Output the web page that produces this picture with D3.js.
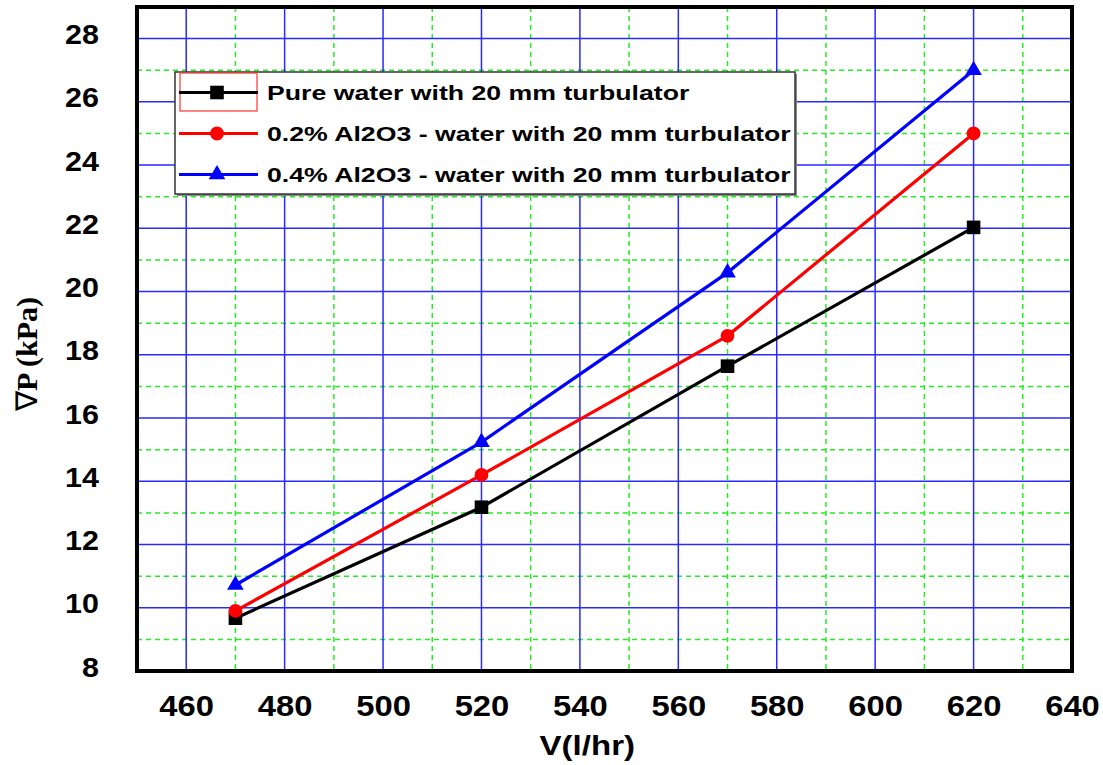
<!DOCTYPE html>
<html>
<head>
<meta charset="utf-8">
<script src="https://cdn.jsdelivr.net/npm/d3@7"></script>
<style>
body { margin: 0; background: #fff; }
text { font-family: Arial, "Liberation Sans", sans-serif; font-weight: bold; fill: #000; }
</style>
</head>
<body>
<div id="chart"></div>
<script>
var flowRates = [470, 520, 570, 620];
var pureWater = [9.67, 13.18, 17.64, 22.03];
var alumina02 = [9.9, 14.2, 18.6, 25.0];
var alumina04 = [10.72, 15.24, 20.6, 27.0];
var seriesNames = [
	"Pure water with 20 mm turbulator",
	"0.2% Al2O3 - water with 20 mm turbulator",
	"0.4% Al2O3 - water with 20 mm turbulator"
];
var xTicks = [460, 480, 500, 520, 540, 560, 580, 600, 620, 640];
var yTicks = [8, 10, 12, 14, 16, 18, 20, 22, 24, 26, 28];

var totalWidth = 1103, totalHeight = 765;
var margin = { top: 7, left: 137, bottom: 94, right: 31 };
var width = totalWidth - margin.left - margin.right;
var height = totalHeight - margin.top - margin.bottom;

// the original text is drawn a little wider than plain Arial
var tickStretch = 1.13;
var legendStretch = 1.27;

var series = [
	{ name: seriesNames[0], values: pureWater, color: "#000000", symbol: d3.symbolSquare, size: 185 },
	{ name: seriesNames[1], values: alumina02, color: "#ff0000", symbol: d3.symbolCircle, size: 150 },
	{ name: seriesNames[2], values: alumina04, color: "#0000ff", symbol: d3.symbolTriangle, size: 120 }
];

var xScale = d3.scaleLinear().domain([450, 640]).range([0, width]);
var yScale = d3.scaleLinear().domain([8, 29]).range([height, 0]);

var svg = d3.select("#chart").append("svg")
	.attr("width", totalWidth)
	.attr("height", totalHeight);

var mainGroup = svg.append("g")
	.attr("transform", "translate(" + margin.left + "," + margin.top + ")");

// minor grid (green dashed)
var gridGroup = mainGroup.append("g");
xTicks.forEach(function (t) {
	var m = t + 10;
	if (m < 640) {
		gridGroup.append("line")
			.attr("x1", xScale(m)).attr("x2", xScale(m))
			.attr("y1", 0).attr("y2", height)
			.attr("stroke", "#22ee22").attr("stroke-width", 1.5)
			.attr("stroke-dasharray", "5,4");
	}
});
yTicks.forEach(function (t) {
	var m = t + 1;
	if (m < 29) {
		gridGroup.append("line")
			.attr("x1", 0).attr("x2", width)
			.attr("y1", yScale(m)).attr("y2", yScale(m))
			.attr("stroke", "#22ee22").attr("stroke-width", 1.5)
			.attr("stroke-dasharray", "5,4");
	}
});
// major grid (blue)
xTicks.forEach(function (t) {
	gridGroup.append("line")
		.attr("x1", xScale(t)).attr("x2", xScale(t))
		.attr("y1", 0).attr("y2", height)
		.attr("stroke", "#2a2aff").attr("stroke-width", 1.5);
});
yTicks.forEach(function (t) {
	gridGroup.append("line")
		.attr("x1", 0).attr("x2", width)
		.attr("y1", yScale(t)).attr("y2", yScale(t))
		.attr("stroke", "#2a2aff").attr("stroke-width", 1.5);
});

// axes
var xAxis = d3.axisBottom(xScale).tickValues(xTicks).tickSize(0);
var yAxis = d3.axisLeft(yScale).tickValues(yTicks).tickSize(0);

mainGroup.append("g")
	.attr("transform", "translate(0," + height + ")")
	.call(xAxis)
	.call(function (g) {
		g.select(".domain").remove();
		g.selectAll("text")
			.style("font-size", "29px")
			.attr("y", 45)
			.attr("dy", 0)
			.attr("transform", "scale(" + tickStretch + ",1)");
	});

mainGroup.append("g")
	.call(yAxis)
	.call(function (g) {
		g.select(".domain").remove();
		g.selectAll("text")
			.style("font-size", "27px")
			.attr("x", -38 / tickStretch)
			.attr("dy", 5)
			.attr("transform", "scale(" + tickStretch + ",1)");
	});

// series
var line = d3.line()
	.x(function (d, i) { return xScale(flowRates[i]); })
	.y(function (d) { return yScale(d); });

series.forEach(function (s) {
	mainGroup.append("path")
		.datum(s.values)
		.attr("fill", "none")
		.attr("stroke", s.color)
		.attr("stroke-width", 3.2)
		.attr("d", line);
});
series.forEach(function (s) {
	mainGroup.selectAll(null)
		.data(s.values)
		.enter()
		.append("path")
		.attr("transform", function (d, i) { return "translate(" + xScale(flowRates[i]) + "," + yScale(d) + ")"; })
		.attr("d", d3.symbol().type(s.symbol).size(s.size))
		.attr("fill", s.color);
});

// frame
mainGroup.append("rect")
	.attr("x", 0).attr("y", 0)
	.attr("width", width).attr("height", height)
	.attr("fill", "none")
	.attr("stroke", "#000")
	.attr("stroke-width", 4);

// legend
var legend = mainGroup.append("g")
	.attr("transform", "translate(" + (175 - margin.left) + "," + (72 - margin.top) + ")");

legend.append("rect")
	.attr("x", 2).attr("y", 2)
	.attr("width", 620).attr("height", 122)
	.attr("fill", "#888");
legend.append("rect")
	.attr("width", 620).attr("height", 122)
	.attr("fill", "#fff")
	.attr("stroke", "#333")
	.attr("stroke-width", 1.5);

legend.append("rect")
	.attr("x", 5).attr("y", 1)
	.attr("width", 77).attr("height", 38)
	.attr("fill", "none")
	.attr("stroke", "#ff3333")
	.attr("stroke-width", 1.2);

series.forEach(function (s, i) {
	var row = legend.append("g")
		.attr("transform", "translate(0," + (20.5 + i * 41) + ")");
	row.append("line")
		.attr("x1", 4).attr("x2", 83)
		.attr("stroke", s.color)
		.attr("stroke-width", 3.2);
	row.append("path")
		.attr("transform", "translate(42,0)")
		.attr("d", d3.symbol().type(s.symbol).size(s.size))
		.attr("fill", s.color);
	row.append("text")
		.attr("x", 92 / legendStretch)
		.attr("dy", "0.36em")
		.attr("transform", "scale(" + legendStretch + ",1)")
		.style("font-size", "21px")
		.text(s.name);
});

// axis titles
svg.append("text")
	.attr("transform", "translate(" + (margin.left + xScale(541.5)) + ",755) scale(1.18,1)")
	.attr("text-anchor", "middle")
	.style("font-size", "28px")
	.text("V(l/hr)");

var yTitle = svg.append("text")
	.attr("transform", "translate(37,354) rotate(-90)")
	.attr("text-anchor", "middle")
	.style("font-family", "'Liberation Serif', 'Times New Roman', serif")
	.style("font-size", "30px");
yTitle.append("tspan")
	.style("font-weight", "normal")
	.text("\u2207");
yTitle.append("tspan")
	.text("P (kPa)");
</script>
</body>
</html>
